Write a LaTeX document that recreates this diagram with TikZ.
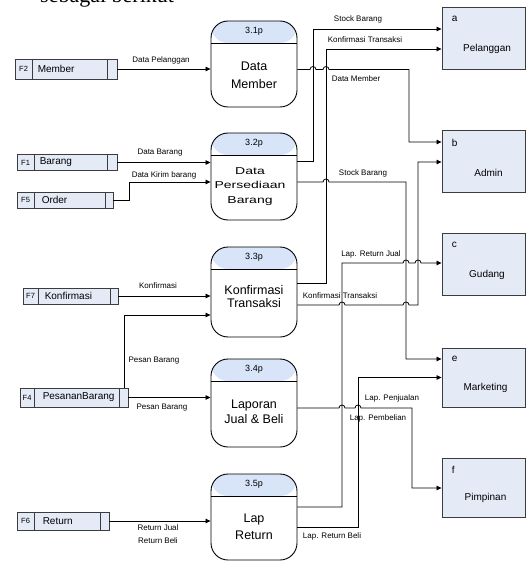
\documentclass[tikz,border=0pt]{standalone}
\usepackage{fontspec}
\setmainfont{Liberation Sans}
\newfontfamily\seriffont{Liberation Serif}
\usetikzlibrary{arrows.meta,calc}

\definecolor{hdrblue}{RGB}{216,228,248}
\definecolor{boxblue}{RGB}{228,235,247}
\definecolor{edgegray}{RGB}{60,60,60}

\begin{document}
\begin{tikzpicture}[x=1pt,y=-1pt,
  flow/.style={draw=black,line width=0.8pt,-{Triangle[length=5pt,width=4.5pt]}},
  lbl/.style={font=\fontsize{8}{9.5}\selectfont,inner sep=0pt},
  proc/.style={draw=black,line width=0.9pt,rounded corners=17pt,minimum width=86pt,inner sep=0pt,
    path picture={
      \fill[hdrblue] (path picture bounding box.north west) rectangle ([yshift=-22pt]path picture bounding box.north east);
      \draw[line width=0.8pt] ([yshift=-22pt]path picture bounding box.north west) -- ([yshift=-22pt]path picture bounding box.north east);}},
  pid/.style={font=\fontsize{9}{10}\selectfont,inner sep=0pt},
  ptxt/.style={font=\fontsize{12.5}{15}\selectfont,align=center,inner sep=0pt},
  ext/.style={draw=edgegray,fill=boxblue,line width=0.9pt,minimum width=83pt,inner sep=0pt},
  extid/.style={font=\fontsize{10}{12}\selectfont,inner sep=0pt,anchor=west},
  extname/.style={font=\fontsize{10}{12}\selectfont,inner sep=0pt},
  store/.style={draw=edgegray,fill=boxblue,line width=0.9pt,inner sep=0pt},
  sid/.style={font=\fontsize{7.5}{9}\selectfont,inner sep=0pt},
  sname/.style={font=\fontsize{10}{12}\selectfont,inner sep=0pt,anchor=west}]

\path[use as bounding box,clip] (0,0) rectangle (526,561);

% heading text running off the top
\node[font=\seriffont\fontsize{22}{22}\selectfont,anchor=base west,inner sep=0pt] (head) at (40,2.5) {sebagai berikut};

% ---------- processes ----------
\node[proc,minimum height=86pt] (p1) at (254,64) {};
\node[proc,minimum height=87pt] (p2) at (254,176.5) {};
\node[proc,minimum height=90pt] (p3) at (254,292) {};
\node[proc,minimum height=88pt] (p4) at (254,403) {};
\node[proc,minimum height=86pt] (p5) at (254,517) {};

\node[pid] (p1h) at ($(p1.north)+(0,11)$) {3.1p};
\node[pid] (p2h) at ($(p2.north)+(0,11)$) {3.2p};
\node[pid] (p3h) at ($(p3.north)+(0,11)$) {3.3p};
\node[pid] (p4h) at ($(p4.north)+(0,11)$) {3.4p};
\node[pid] (p5h) at ($(p5.north)+(0,11)$) {3.5p};

\node[ptxt,font=\fontsize{12.5}{18}\selectfont] (p1t) at ($(p1.center)+(0,11)$) {Data\\Member};
\node[ptxt,font=\fontsize{10}{14.5}\selectfont] (p2t) at ($(p2.center)+(-4,10)$)
  {\scalebox{1.4}[1]{Data}\\\scalebox{1.4}[1]{Persediaan}\\\scalebox{1.4}[1]{Barang}};
\node[ptxt,font=\fontsize{12.5}{13}\selectfont] (p3t) at ($(p3.center)+(0,5)$) {Konfirmasi\\Transaksi};
\node[ptxt,font=\fontsize{12.5}{15}\selectfont] (p4t) at ($(p4.center)+(0,8.5)$) {Laporan\\Jual \& Beli};
\node[ptxt,font=\fontsize{12.5}{17}\selectfont] (p5t) at ($(p5.center)+(0,9.5)$) {Lap\\Return};

% ---------- external entities ----------
\node[ext,minimum height=62pt] (ea) at (483.5,38) {};
\node[ext,minimum height=62pt] (eb) at (483.5,161) {};
\node[ext,minimum height=62pt] (ec) at (483.5,264) {};
\node[ext,minimum height=59pt] (ee) at (483.5,377.5) {};
\node[ext,minimum height=59pt] (ef) at (483.5,487.5) {};

\node[extid] (eai) at ($(ea.north west)+(10,12)$) {a};
\node[extid] (ebi) at ($(eb.north west)+(10,13)$) {b};
\node[extid] (eci) at ($(ec.north west)+(10,12)$) {c};
\node[extid] (eei) at ($(ee.north west)+(10,11)$) {e};
\node[extid] (efi) at ($(ef.north west)+(10,12)$) {f};

\node[extname] (ean) at ($(ea.north)+(3.5,42)$) {Pelanggan};
\node[extname] (ebn) at ($(eb.north)+(5,43)$) {Admin};
\node[extname] (ecn) at ($(ec.north)+(3.5,42)$) {Gudang};
\node[extname] (een) at ($(ee.north)+(2,40)$) {Marketing};
\node[extname] (efn) at ($(ef.north)+(2,40)$) {Pimpinan};

% ---------- data stores ----------
\node[store,minimum width=102pt,minimum height=20pt] (s2) at (66,69) {};
\node[store,minimum width=100pt,minimum height=16pt] (s1) at (67,162.5) {};
\node[store,minimum width=96pt,minimum height=16pt] (s5) at (65,200) {};
\node[store,minimum width=95pt,minimum height=16pt] (s7) at (70.5,296) {};
\node[store,minimum width=108pt,minimum height=19pt] (s4) at (74,397.5) {};
\node[store,minimum width=92pt,minimum height=18pt] (s6) at (63,521) {};

\foreach \s/\a/\b in {s2/18/10, s1/18/10, s5/18/8, s7/16/8, s4/15/9, s6/18/9}{
  \draw[edgegray,line width=0.9pt] ($(\s.north west)+(\a,0)$) -- ($(\s.south west)+(\a,0)$);
  \draw[edgegray,line width=0.9pt] ($(\s.north east)+(-\b,0)$) -- ($(\s.south east)+(-\b,0)$);
}

\node[sid] (s2i) at ($(s2.west)+(9,0)$) {F2};
\node[sid] (s1i) at ($(s1.west)+(9,0)$) {F1};
\node[sid] (s5i) at ($(s5.west)+(9,0)$) {F5};
\node[sid] (s7i) at ($(s7.west)+(8,0)$) {F7};
\node[sid] (s4i) at ($(s4.west)+(7.5,0)$) {F4};
\node[sid] (s6i) at ($(s6.west)+(9,0)$) {F6};

\node[sname] (s2n) at ($(s2.west)+(23,0)$) {Member};
\node[sname] (s1n) at ($(s1.west)+(23,0)$) {Barang};
\node[sname] (s5n) at ($(s5.west)+(25,0)$) {Order};
\node[sname] (s7n) at ($(s7.west)+(22,0)$) {Konfirmasi};
\node[sname] (s4n) at ($(s4.west)+(23,0)$) {PesananBarang};
\node[sname] (s6n) at ($(s6.west)+(26,0)$) {Return};

% ---------- flows into the processes ----------
\draw[flow] (s2.east) -- (s2.east -| p1.west);
\draw[flow] (s1.east) -- (s1.east -| p2.west);
\draw[flow] (s5.east) -- ++(16,0) |- ($(p2.west)+(0,5.5)$);
\draw[flow] (s7.east) -- (s7.east -| p3.west);
\draw[flow] ($(s4.north east)+(-4,0)$) |- ($(p3.west)+(0,23)$);
\draw[flow] (s4.east) -- (s4.east -| p4.west);
\draw[flow] (s6.east) -- (s6.east -| p5.west);

% ---------- flows out of the processes ----------
% Stock Barang -> Pelanggan
\draw[flow] (p2.east |- 0,161) -| (313,29) -- (ea.west |- 0,29);
% Konfirmasi Transaksi -> Pelanggan
\draw[flow] (p3.east |- 0,283) -| (326,49) -- (ea.west |- 0,49);
% Data Member -> Admin
\draw[flow] (p1.east |- 0,69.5) -- (310,69.5) arc[start angle=180,end angle=0,radius=3pt]
  -- (323,69.5) arc[start angle=180,end angle=0,radius=3pt]
  -- (409,69.5) |- (eb.west |- 0,142);
% Stock Barang -> Marketing
\draw[flow] (p2.east |- 0,182) -- (323,182) arc[start angle=180,end angle=0,radius=3pt]
  -- (406,182) |- (ee.west |- 0,359);
% Konfirmasi Transaksi -> Admin
\draw[flow] (p3.east |- 0,305) -- (339,305) arc[start angle=180,end angle=0,radius=3pt]
  -- (403,305) arc[start angle=180,end angle=0,radius=3pt]
  -- (418,305) |- (eb.west |- 0,162);
% Lap. Return Jual -> Gudang
\draw[flow] (p5.east |- 0,507) -| (342,263) -- (403,263) arc[start angle=180,end angle=0,radius=3pt]
  -- (415,263) arc[start angle=180,end angle=0,radius=3pt] -- (ec.west |- 0,263);
% Lap. Return Beli / Lap. Penjualan -> Marketing
\draw[flow] (p5.east |- 0,527) -| (358,377.5) -- (ee.west |- 0,377.5);
% Lap. Pembelian -> Pimpinan
\draw[flow] (p4.east |- 0,408) -- (339,408) arc[start angle=180,end angle=0,radius=3pt]
  -- (355,408) arc[start angle=180,end angle=0,radius=3pt]
  -- (412,408) |- (ef.west |- 0,488);

% ---------- flow labels ----------
\node[lbl] (l1) at (161,60) {Data Pelanggan};
\node[lbl] (l2) at (160,153) {Data Barang};
\node[lbl] (l3) at (164,175) {Data Kirim barang};
\node[lbl] (l4) at (158,286) {Konfirmasi};
\node[lbl] (l5) at (154,361) {Pesan Barang};
\node[lbl] (l6) at (162,408) {Pesan Barang};
\node[lbl,align=center,font=\fontsize{8}{13}\selectfont] (l7) at (158,534.5) {Return Jual\\Return Beli};
\node[lbl] (l8) at (358,19) {Stock Barang};
\node[lbl] (l9) at (365,40) {Konfirmasi Transaksi};
\node[lbl] (l10) at (356,79) {Data Member};
\node[lbl] (l11) at (363,173) {Stock Barang};
\node[lbl] (l12) at (371,254) {Lap. Return Jual};
\node[lbl] (l13) at (340,296) {Konfirmasi Transaksi};
\node[lbl] (l14) at (392,398) {Lap. Penjualan};
\node[lbl] (l15) at (378,418) {Lap. Pembelian};
\node[lbl] (l16) at (332,536) {Lap. Return Beli};

\end{tikzpicture}
\end{document}
